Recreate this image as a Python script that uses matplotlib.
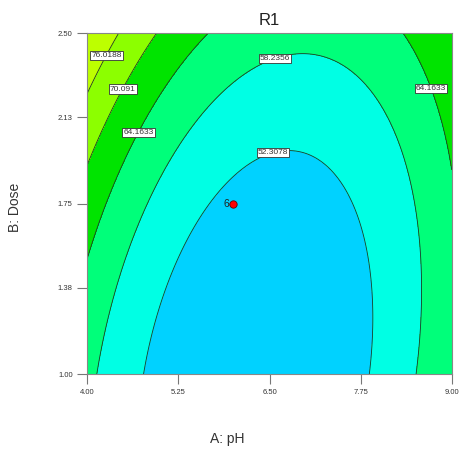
import numpy as np
import matplotlib
matplotlib.use("Agg")
import matplotlib.pyplot as plt
from matplotlib.colors import ListedColormap, BoundaryNorm

plt.rcParams['font.family'] = ['Liberation Sans', 'DejaVu Sans']

# ---- data ----
title = "R1"
x_label = "A: pH"
y_label = "B: Dose"
x_ticks = [4.00, 5.25, 6.50, 7.75, 9.00]
y_ticks = [1.00, 1.38, 1.75, 2.13, 2.50]
contour_levels = [52.3078, 58.2356, 64.1633, 70.091, 76.0188]
level_labels = ["52.3078", "58.2356", "64.1633", "70.091", "76.0188"]
band_colors = ["#00D2FF", "#00FFE4", "#00FF7A", "#00E400", "#8CFF00", "#BDFF00"]
# response surface model:  R1 = g(B) + k*(A - (c0 + s*(B-1)))^2
model_min = 46.38
model_lin_b = 0.54
model_quad_b = 5.58
model_quad_a = 2.47
ridge_c0 = 6.32
ridge_slope = 0.45
design_point_ph = [6.0]
design_point_dose = [1.75]
design_point_count = ["6"]
label_positions = [(4.22, 2.41), (4.45, 2.26), (4.67, 2.07), (6.55, 2.41), (6.53, 1.99), (8.73, 2.26)]

# ---- figure ----
fig = plt.figure(figsize=(4.60, 4.49), dpi=100)
ax = fig.add_axes([0.190, 0.167, 0.792, 0.759])

A = np.linspace(4.0, 9.0, 301)
B = np.linspace(1.0, 2.5, 301)
AA, BB = np.meshgrid(A, B)
U = BB - 1.0
Z = model_min + model_lin_b * U + model_quad_b * U ** 2 + \
    model_quad_a * (AA - (ridge_c0 + ridge_slope * U)) ** 2

bounds = [Z.min() - 1] + contour_levels + [Z.max() + 1]
cmap = ListedColormap(band_colors)
norm = BoundaryNorm(bounds, cmap.N)
ax.contourf(AA, BB, Z, levels=bounds, cmap=cmap, norm=norm)
cs = ax.contour(AA, BB, Z, levels=contour_levels, colors='#1a3a2a', linewidths=0.6)
fmt = dict(zip(cs.levels, level_labels))
texts = ax.clabel(cs, fmt=fmt, inline=False, fontsize=6, colors='#333333',
                  manual=label_positions)
for t in texts:
    t.set_bbox(dict(facecolor='white', edgecolor='#333333', linewidth=0.6, pad=0.8))
    t.set_rotation(0)

ax.scatter(design_point_ph, design_point_dose, s=28, color='#ff0000',
           edgecolors='#660000', linewidths=0.6, zorder=5)
for px, py, lab in zip(design_point_ph, design_point_dose, design_point_count):
    ax.text(px - 0.06, py, lab, fontsize=7.5, ha='right', va='center', color='#222222')

ax.set_xlim(4.0, 9.0)
ax.set_ylim(1.0, 2.5)
ax.set_xticks(x_ticks)
ax.set_yticks(y_ticks)
ax.set_xticklabels([f"{v:.2f}" for v in x_ticks])
ax.set_yticklabels([f"{v:.2f}" for v in y_ticks])
ax.tick_params(axis='x', direction='out', length=7, width=0.8, color='#777777',
               labelsize=5.5, labelcolor='#333333', pad=4)
ax.tick_params(axis='y', direction='out', length=7.5, width=0.8, color='#777777',
               labelsize=5.5, labelcolor='#333333', pad=3)
for s in ax.spines.values():
    s.set_color('#888888')
    s.set_linewidth(0.8)

ax.set_title(title, fontsize=12, pad=6, color='#222222')
fig.text(0.493, 0.022, x_label, fontsize=10, ha='center', va='center', color='#333333')
fig.text(0.033, 0.539, y_label, fontsize=10, ha='center', va='center',
         rotation=90, color='#333333')

fig.savefig("out.png", dpi=100)
